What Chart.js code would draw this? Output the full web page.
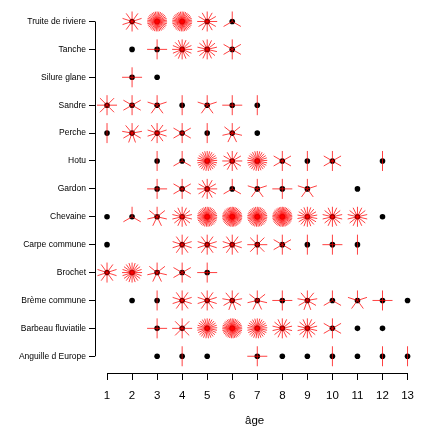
<!DOCTYPE html>
<html>
<head>
<meta charset="utf-8">
<script src="https://cdn.jsdelivr.net/npm/chart.js@4"></script>
<style>
  body { margin: 0; background: #fff; }
</style>
</head>
<body>
<canvas id="chart" width="423" height="433"></canvas>
<script>
// species, bottom to top
const species = ["Anguille d Europe", "Barbeau fluviatile", "Brème commune", "Brochet", "Carpe commune",
  "Chevaine", "Gardon", "Hotu", "Perche", "Sandre", "Silure glane", "Tanche", "Truite de riviere"]
const ages = [1, 2, 3, 4, 5, 6, 7, 8, 9, 10, 11, 12, 13]

// number of fish per age (0 = none)
const anguille = [0, 0, 1, 2, 1, 0, 4, 1, 1, 2, 1, 2, 2]
const barbeau  = [0, 0, 4, 8, 25, 35, 25, 14, 14, 6, 1, 1, 0]
const breme    = [0, 1, 2, 10, 10, 9, 7, 4, 9, 3, 5, 4, 1]
const brochet  = [10, 20, 7, 6, 4, 0, 0, 0, 0, 0, 0, 0, 0]
const carpe    = [1, 0, 0, 10, 10, 10, 8, 6, 2, 4, 2, 0, 0]
const chevaine = [1, 3, 7, 14, 35, 40, 35, 40, 18, 14, 14, 1, 0]
const gardon   = [0, 0, 4, 6, 12, 3, 5, 4, 5, 0, 1, 0, 0]
const hotu     = [0, 0, 2, 3, 25, 12, 25, 6, 2, 6, 0, 2, 0]
const perche   = [2, 9, 10, 6, 2, 7, 1, 0, 0, 0, 0, 0, 0]
const sandre   = [8, 6, 5, 2, 5, 4, 2, 0, 0, 0, 0, 0, 0]
const silure   = [0, 4, 1, 0, 0, 0, 0, 0, 0, 0, 0, 0, 0]
const tanche   = [0, 1, 4, 16, 14, 6, 0, 0, 0, 0, 0, 0, 0]
const truite   = [0, 10, 35, 35, 12, 3, 0, 0, 0, 0, 0, 0, 0]

const counts = [anguille, barbeau, breme, brochet, carpe, chevaine, gardon, hotu, perche, sandre, silure, tanche, truite]

let points = []
counts.forEach((row, i) => {
  row.forEach((n, j) => {
    if (n > 0) points.push({ x: ages[j], y: i + 1, n: n })
  })
})

const petalLen = 10
const font = "'Liberation Sans', Arial, sans-serif"

// draws the sunflower petals and the R-style axis lines
const sunflower = {
  id: 'sunflower',
  afterDatasetsDraw(chart) {
    const ctx = chart.ctx
    const meta = chart.getDatasetMeta(0)
    const data = chart.data.datasets[0].data
    ctx.save()
    ctx.strokeStyle = 'rgba(255,0,0,0.75)'
    ctx.lineWidth = 1
    meta.data.forEach((el, k) => {
      const n = data[k].n
      if (n < 2) return
      ctx.beginPath()
      for (let p = 1; p <= n; p++) {
        const deg = 2 * Math.PI * p / n
        ctx.moveTo(el.x, el.y)
        ctx.lineTo(el.x + petalLen * Math.sin(deg), el.y - petalLen * Math.cos(deg))
      }
      ctx.stroke()
    })
    ctx.restore()
  },
  afterDraw(chart) {
    const ctx = chart.ctx
    const xs = chart.scales.x
    const ys = chart.scales.y
    const area = chart.chartArea
    ctx.save()
    ctx.strokeStyle = '#000'
    ctx.lineWidth = 1
    ctx.beginPath()
    const by = Math.round(area.bottom) + 0.5
    ctx.moveTo(xs.getPixelForValue(ages[0]), by)
    ctx.lineTo(xs.getPixelForValue(ages[ages.length - 1]), by)
    const lx = Math.round(area.left) + 0.5
    ctx.moveTo(lx, ys.getPixelForValue(1))
    ctx.lineTo(lx, ys.getPixelForValue(species.length))
    ctx.stroke()
    ctx.restore()
  }
}

new Chart(document.getElementById('chart'), {
  type: 'scatter',
  data: {
    datasets: [{
      data: points,
      pointRadius: 2.8,
      pointBackgroundColor: '#000',
      pointBorderWidth: 0,
      pointHoverRadius: 2.8
    }]
  },
  options: {
    responsive: false,
    animation: false,
    layout: { padding: { top: 1, right: 1, left: 0, bottom: 0 } },
    plugins: { legend: { display: false }, tooltip: { enabled: false } },
    scales: {
      x: {
        type: 'linear',
        min: 0.52,
        max: 13.27,
        afterBuildTicks: s => { s.ticks = ages.map(v => ({ value: v })) },
        afterFit: s => { s.height = 60 },
        border: { display: false },
        grid: { drawOnChartArea: false, drawTicks: true, tickLength: 7, color: '#000', lineWidth: 1 },
        ticks: { color: '#000', padding: 9, maxRotation: 0, autoSkip: false, font: { family: font, size: 11.5 } },
        title: { display: true, text: 'âge', color: '#000', padding: { top: 0, bottom: 5 }, font: { family: font, size: 11.5 } }
      },
      y: {
        type: 'linear',
        min: 0.4,
        max: 13.48,
        afterBuildTicks: s => { s.ticks = species.map((_, i) => ({ value: i + 1 })) },
        afterFit: s => { s.width = 95 },
        border: { display: false },
        grid: { drawOnChartArea: false, drawTicks: true, tickLength: 6, color: '#000', lineWidth: 1 },
        ticks: {
          color: '#000', padding: 3, autoSkip: false,
          font: { family: font, size: 8.5 },
          callback: v => species[v - 1]
        }
      }
    }
  },
  plugins: [sunflower]
})
</script>
</body>
</html>
